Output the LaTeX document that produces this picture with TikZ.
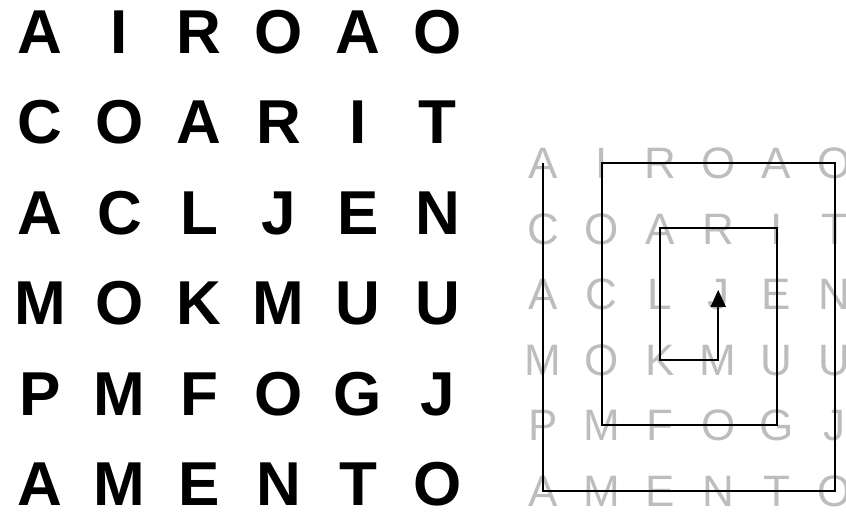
\documentclass[tikz,border=0pt]{standalone}
\usepackage{fontspec}
\setmainfont{Liberation Sans}
\usetikzlibrary{arrows.meta}
\definecolor{faint}{gray}{0.74}
\begin{document}
\begin{tikzpicture}[x=1pt,y=-1pt,
  big/.style={inner sep=0pt, text height=44pt, text depth=0pt,
              font=\fontsize{62}{62}\selectfont\bfseries},
  small/.style={inner sep=0pt, text height=31.5pt, text depth=0pt, text=faint,
                font=\fontsize{44}{44}\selectfont},
  trail/.style={line width=2pt, -{Triangle[length=17pt,width=15pt]}},
  ]
  \useasboundingbox (0,0) rectangle (846,512);
  % ---- both grids: bold on the left, faint copy on the right ---------------
  \foreach \row [count=\j from 0] in {{A,I,R,O,A,O},{C,O,A,R,I,T},{A,C,L,J,E,N},
                                      {M,O,K,M,U,U},{P,M,F,O,G,J},{A,M,E,N,T,O}} {
    \foreach \ch [count=\i from 0] in \row {
      \node[big]   (l\i\j) at (40+79.5*\i, 31+90.5*\j) {\ch};
      \node[small] (r\i\j) at (543.3+58.3*\i, 162.7+65.6*\j) {\ch};
    }
  }
  % ---- reading order, spiralling inwards ------------------------------------
  \draw[trail, shorten >=-4pt] (r00.center) -- (r05.center) -- (r55.center) -- (r50.center)
    -- (r10.center) -- (r14.center) -- (r44.center) -- (r41.center)
    -- (r21.center) -- (r23.center) -- (r33.center) -- (r32.center);
\end{tikzpicture}
\end{document}
